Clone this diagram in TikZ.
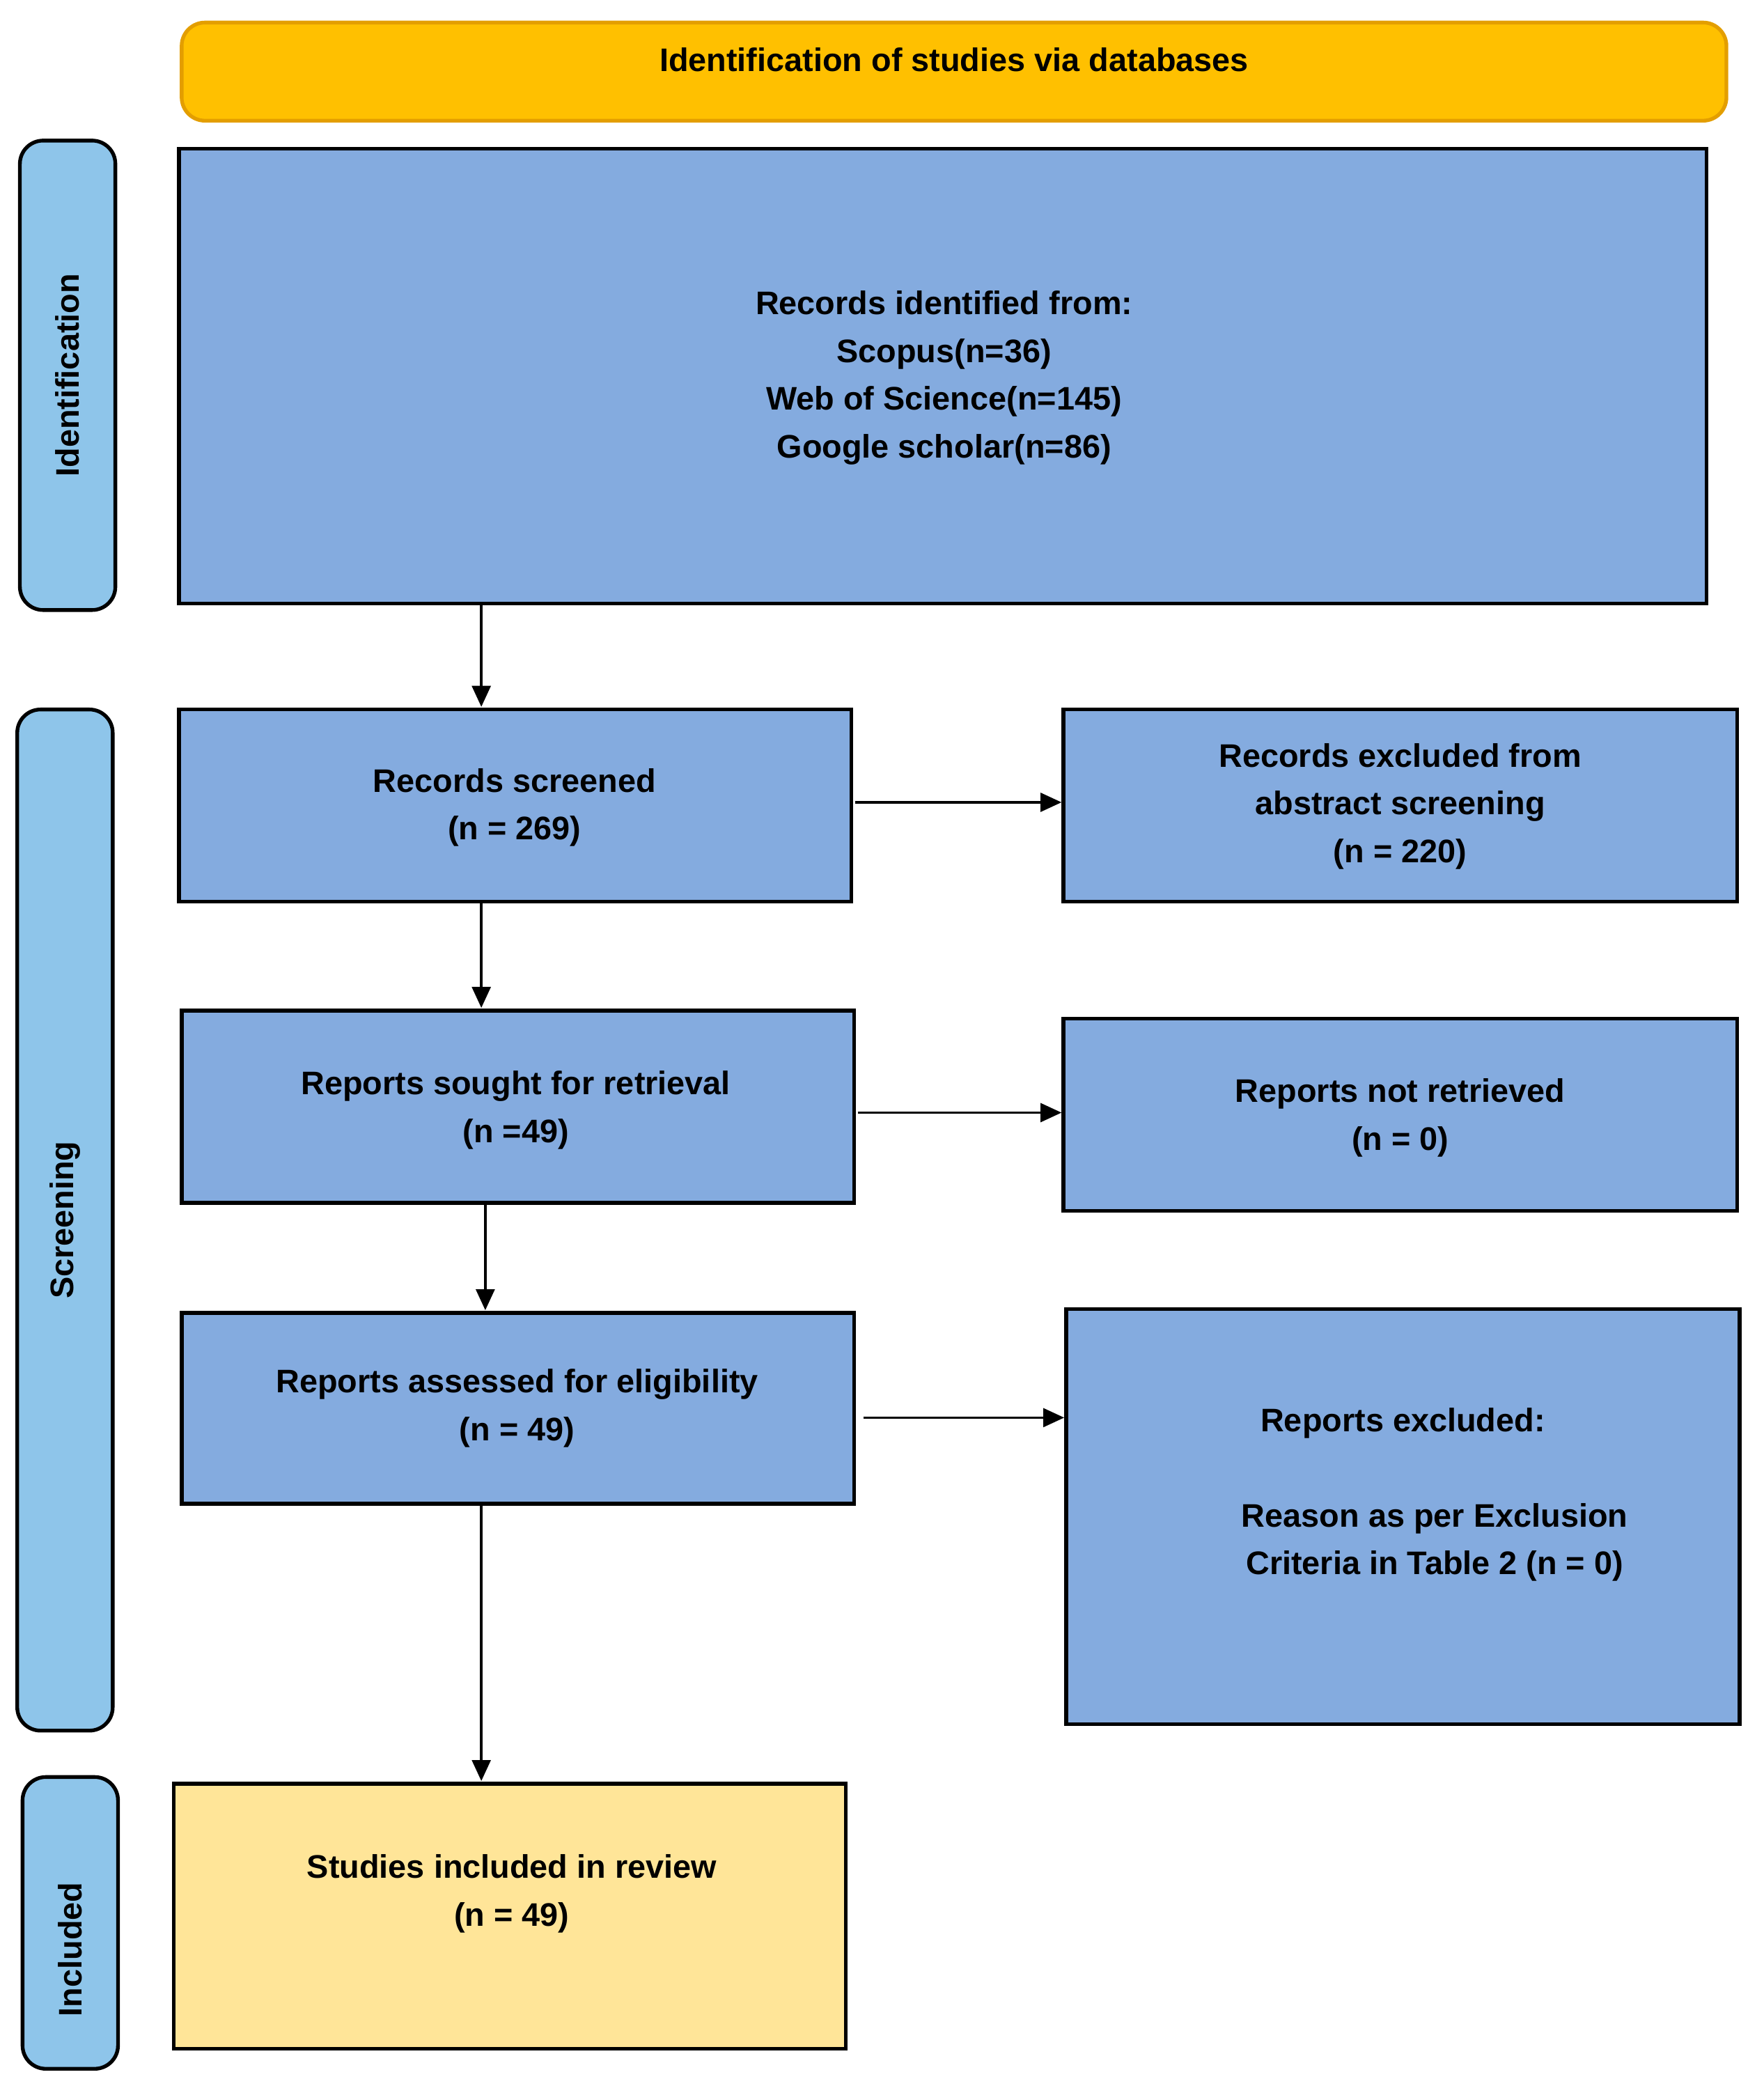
\documentclass[tikz,border=0pt]{standalone}
\usepackage{fontspec}
\setmainfont{Liberation Sans}
\usetikzlibrary{fit,arrows.meta}
\definecolor{boxblue}{HTML}{84ABDF}
\definecolor{sideblue}{HTML}{8EC5EA}
\definecolor{banner}{HTML}{FFC000}
\definecolor{bannerline}{HTML}{E39E00}
\definecolor{inclyel}{HTML}{FFE598}
\begin{document}
\begin{tikzpicture}[x=0.02cm,y=-0.02cm,
  box/.style={draw=black,line width=1.6pt,fill=boxblue,inner sep=0pt,align=center,
    font=\fontsize{14}{20.5}\selectfont\bfseries},
  side/.style={draw=black,line width=1.6pt,fill=sideblue,rounded corners=10pt,inner sep=0pt},
  sidetext/.style={rotate=90,font=\fontsize{14}{17}\selectfont\bfseries},
  arr/.style={line width=1.1pt,-{Triangle[length=9pt,width=8pt]}}]
\useasboundingbox (0,0) rectangle (1330,1573);
% banner
\node[box,fill=banner,draw=bannerline,rounded corners=10pt,fit={(137,17)(1302,91)}] (ban)
  {Identification of studies via databases};
% side bars
\node[side,fit={(15,106)(87,460)}] (sid) {};
\node[sidetext] at (sid.center) {Identification};
\node[side,fit={(13,535)(85,1305)}] (ssc) {};
\node[sidetext] at (ssc.center) {Screening};
\node[side,fit={(17,1340)(89,1560)}] (sin) {};
\node[sidetext] at ([yshift=-0.4cm]sin.center) {Included};
% main boxes
\node[box,fit={(135,112)(1287,455)}] (rid) {};
\node[box,draw=none,fill=none] at (712,285) {Records identified from:\\Scopus(n=36)\\Web of Science(n=145)\\Google scholar(n=86)};
\node[box,fit={(135,535)(642,680)}] (rsc) {};
\node[box,draw=none,fill=none] at (388,609) {Records screened\\(n = 269)};
\node[box,fit={(802,535)(1310,680)}] (rex) {};
\node[box,draw=none,fill=none] at (1056,608) {Records excluded from\\abstract screening\\(n = 220)};
\node[box,fit={(137,762)(644,907)}] (rso) {};
\node[box,draw=none,fill=none] at (389,837) {Reports sought for retrieval\\(n =49)};
\node[box,fit={(802,768)(1310,913)}] (rnr) {};
\node[box,draw=none,fill=none] at (1056,843) {Reports not retrieved\\(n = 0)};
\node[box,fit={(137,990)(644,1134)}] (ras) {};
\node[box,draw=none,fill=none] at (390,1062) {Reports assessed for eligibility\\(n = 49)};
\node[box,fit={(804,987)(1312,1300)}] (rre) {};
\node[box,draw=none,fill=none] at (1058,1073) {Reports excluded:};
\node[box,draw=none,fill=none] at (1082,1163) {Reason as per Exclusion\\Criteria in Table 2 (n = 0)};
\node[box,fill=inclyel,fit={(131,1345)(638,1545)}] (sir) {};
\node[box,draw=none,fill=none] at (386,1428) {Studies included in review\\(n = 49)};
% connectors
\coordinate (a1) at (363,455); \coordinate (a2) at (363,533);
\coordinate (b1) at (363,680); \coordinate (b2) at (363,760);
\coordinate (c1) at (366,907); \coordinate (c2) at (366,988);
\coordinate (d1) at (363,1134); \coordinate (d2) at (363,1343);
\draw[arr] (a1) -- (a2);
\draw[arr] (b1) -- (b2);
\draw[arr] (c1) -- (c2);
\draw[arr] (d1) -- (d2);
\draw[arr] (645,605) -- (rex.west |- 0,605);
\draw[arr] (647,839) -- (rnr.west |- 0,839);
\draw[arr] (651,1069) -- (rre.west |- 0,1069);
\end{tikzpicture}
\end{document}
